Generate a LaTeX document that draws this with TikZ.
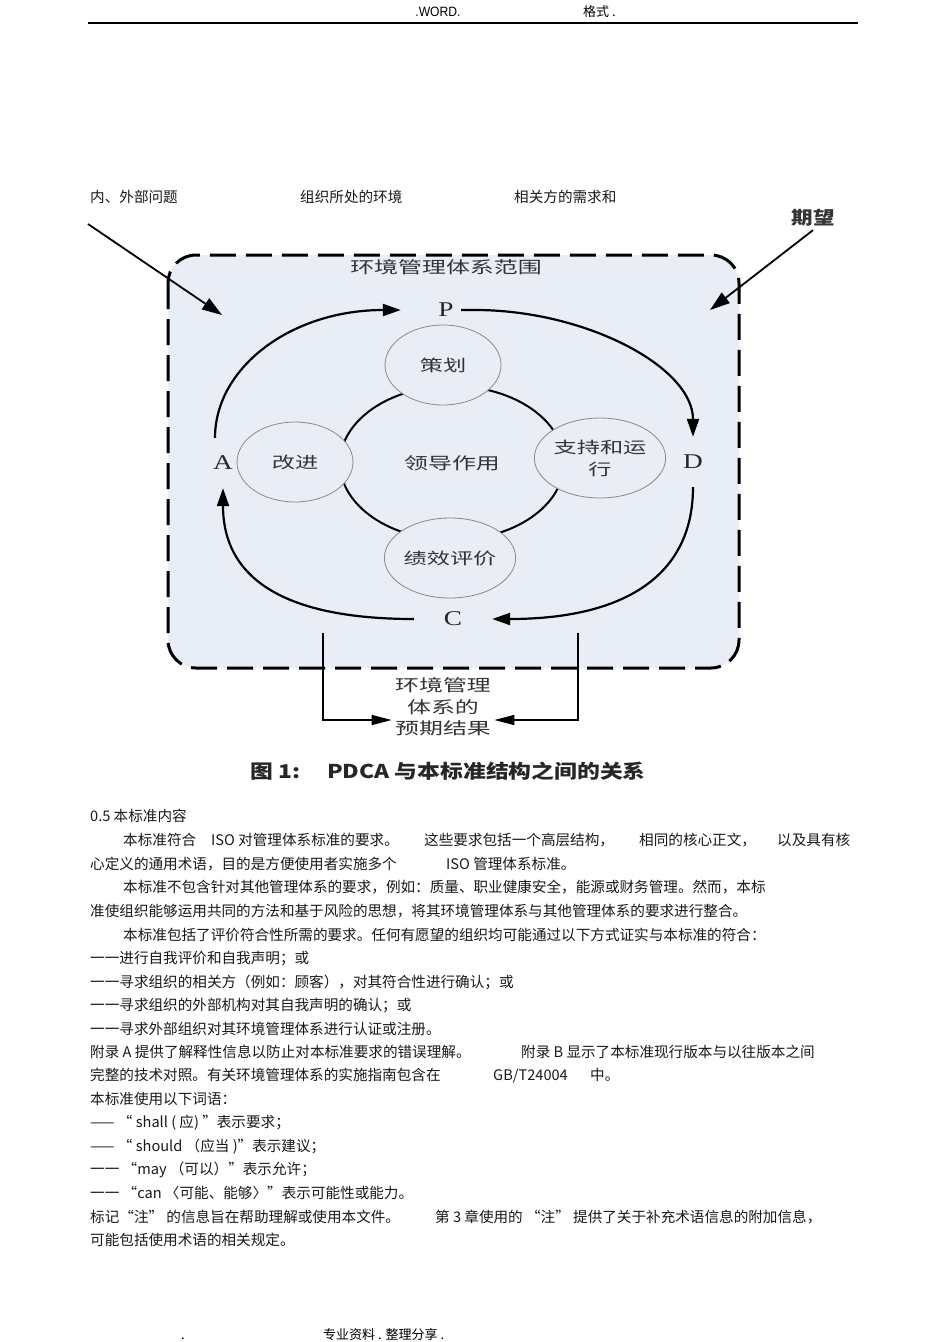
\documentclass[tikz,border=0pt]{standalone}
\usepackage{fontspec}
\setmainfont{Liberation Serif}
\newfontfamily\cjkfont{Noto Sans CJK SC}
\newfontfamily\narrowfont{Liberation Sans}
\usepackage{graphicx}
\usetikzlibrary{arrows.meta, positioning, shapes.geometric, calc}
\definecolor{scopeblue}{HTML}{E8EDF6}
\definecolor{inkgray}{HTML}{333333}
\definecolor{rimgray}{HTML}{8A8A8A}
\newcommand{\wide}[2][1.45]{\scalebox{#1}[1]{#2}}

\begin{document}
\begin{tikzpicture}[x=1pt, y=1pt,
  bodytext/.style={anchor=base west, inner sep=0pt, text=black!90, font=\cjkfont\fontsize{14.6}{17}\selectfont},
  bubble/.style={ellipse, draw=rimgray, line width=0.8pt, fill=scopeblue, minimum width=116pt, minimum height=80pt, inner sep=0pt, align=center, text=inkgray, font=\cjkfont\fontsize{16}{20}\selectfont},
  pdca/.style={inner sep=0pt, minimum width=30pt, minimum height=50pt, text=black!85, font=\fontsize{21}{24}\selectfont},
  pdcaarc/.style={line width=2.2pt, -{Triangle[length=18pt,width=12pt]}},
  inarrow/.style={line width=1.8pt, -{Triangle[length=20pt,width=13pt]}},
  bracketarrow/.style={line width=1.4pt, -{Triangle[length=20pt,width=10pt]}},
  scopebox/.style={draw, fill=scopeblue, line width=3pt, dash pattern=on 26pt off 10pt, rounded corners=28pt},
  difftext/.style={text=inkgray, font=\cjkfont\fontsize{16.5}{21.5}\selectfont}
]
\fill[white] (0,0) rectangle (950,-1342);
\useasboundingbox (0,0) rectangle (950,-1342);

% page header
\node[anchor=base, inner sep=0pt, font=\narrowfont\fontsize{13.5}{15}\selectfont] (hdrword) at (438,-16) {\wide[0.9]{.WORD.}};
\node[anchor=base west, inner sep=0pt, font=\cjkfont\fontsize{13}{15}\selectfont] (hdrfmt) at (583,-16) {格式 .};
\draw[line width=1.2pt] (88,-23) -- (858,-23);

% labels above the figure
\node[bodytext] (issues) at (90,-202) {内、外部问题};
\node[bodytext] (context) at (300,-202) {组织所处的环境};
\node[bodytext] (needs) at (514,-202) {相关方的需求和};
\node[text=inkgray, font=\cjkfont\bfseries\fontsize{18}{20}\selectfont] (expect) at (813,-218) {\wide[1.2]{期望}};

% scope of the system
\draw[scopebox] (168,-255) rectangle (739,-668);
\node[difftext] (scopetitle) at (446,-267) {\wide{环境管理体系范围}};

% inputs
\coordinate (issuesfrom) at (88,-224);
\coordinate (issuesto) at (222,-315);
\coordinate (expectto) at (710,-310);
\draw[inarrow] (issuesfrom) -- (issuesto);
\draw[inarrow] (expect.south) -- (expectto);

% leadership ring and the four clauses
\node[ellipse, draw, line width=2pt, minimum width=224pt, minimum height=154pt, inner sep=0pt, difftext] (lead) at (452,-463) {\wide{领导作用}};
\node[bubble] (plan) at (443,-365) {\wide{策划}};
\node[bubble] (improve) at (295,-462) {\wide{改进}};
\node[bubble] (support) at (600,-458) {\wide{支持和运}\\[2pt]\wide{行}};
\node[bubble] (check) at (450,-558) {\wide{绩效评价}};

% PDCA letters
\node[pdca] (P) at (446,-310) {\wide[1.3]{P}};
\node[pdca] (D) at (693,-462) {\wide[1.3]{D}};
\node[pdca, minimum width=78pt] (C) at (453,-619) {\wide[1.3]{C}};
\node[pdca] (A) at (223,-463) {\wide[1.3]{A}};

% the cycle
\draw[pdcaarc] (P.east) -- ++(14,0) to[out=0, in=90, out distance=110pt, in distance=70pt] (D.north);
\draw[pdcaarc] (D.south) to[out=-90, in=0, out distance=90pt, in distance=130pt] (C.east);
\draw[pdcaarc] (C.west) to[out=180, in=-90, out distance=130pt, in distance=90pt] (A.south);
\draw[pdcaarc] ([xshift=-8pt]A.north) to[out=90, in=180, out distance=70pt, in distance=110pt] ([xshift=-30pt]P.west);

% outcomes
\node[difftext, align=center] (result) at (443,-707) {\wide{环境管理}\\\wide{体系的}\\\wide{预期结果}};
\coordinate (outL) at (323,-633);
\coordinate (outR) at (578,-633);
\draw[bracketarrow] (outL) |- ([yshift=-13pt]result.west);
\draw[bracketarrow] (outR) |- ([yshift=-13pt]result.east);

% caption
\node[anchor=base west, inner sep=0pt, text=black!85, font=\cjkfont\bfseries\fontsize{19}{21}\selectfont] (figno) at (250,-778) {\wide[1.2]{图 1:}};
\node[anchor=base west, inner sep=0pt, text=black!85, font=\cjkfont\bfseries\fontsize{19}{21}\selectfont] (figtitle) at (327,-778) {\wide[1.2]{PDCA 与本标准结构之间的关系}};

% body text
\foreach \x/\y/\t in {
  90/821/{0.5 本标准内容},
  123/845/{本标准符合}, 211/845/{ISO 对管理体系标准的要求。}, 424/845/{这些要求包括一个高层结构，}, 639/845/{相同的核心正文，}, 777/845/{以及具有核},
  90/869/{心定义的通用术语，目的是方便使用者实施多个}, 446/869/{ISO 管理体系标准。},
  123/892/{本标准不包含针对其他管理体系的要求，例如：质量、职业健康安全，能源或财务管理。然而，本标},
  90/916/{准使组织能够运用共同的方法和基于风险的思想，将其环境管理体系与其他管理体系的要求进行整合。},
  123/940/{本标准包括了评价符合性所需的要求。任何有愿望的组织均可能通过以下方式证实与本标准的符合：},
  90/963/{一一进行自我评价和自我声明；或},
  90/987/{一一寻求组织的相关方（例如：顾客），对其符合性进行确认；或},
  90/1010/{一一寻求组织的外部机构对其自我声明的确认；或},
  90/1034/{一一寻求外部组织对其环境管理体系进行认证或注册。},
  90/1057/{附录 A 提供了解释性信息以防止对本标准要求的错误理解。}, 521/1057/{附录 B 显示了本标准现行版本与以往版本之间},
  90/1080/{完整的技术对照。有关环境管理体系的实施指南包含在}, 493/1080/{GB/T24004}, 590/1080/{中。},
  90/1104/{本标准使用以下词语：},
  90/1127/{—— “ shall ( 应) ”表示要求；},
  90/1151/{—— “ should （应当 )”表示建议；},
  90/1174/{一一 “may （可以）”表示允许；},
  90/1198/{一一 “can 〈可能、能够〉”表示可能性或能力。},
  90/1222/{标记“注” 的信息旨在帮助理解或使用本文件。}, 435/1222/{第 3 章使用的 “注” 提供了关于补充术语信息的附加信息，},
  90/1245/{可能包括使用术语的相关规定。}} {
  \node[bodytext] (txt-\x-\y) at (\x,-\y) {\t};
}

% page footer
\node[anchor=base west, inner sep=0pt, font=\cjkfont\fontsize{13}{15}\selectfont] (footdot) at (181,-1339) {.};
\node[anchor=base west, inner sep=0pt, font=\cjkfont\fontsize{13}{15}\selectfont] (foot) at (323,-1339) {专业资料 . 整理分享 .};
\end{tikzpicture}
\end{document}
